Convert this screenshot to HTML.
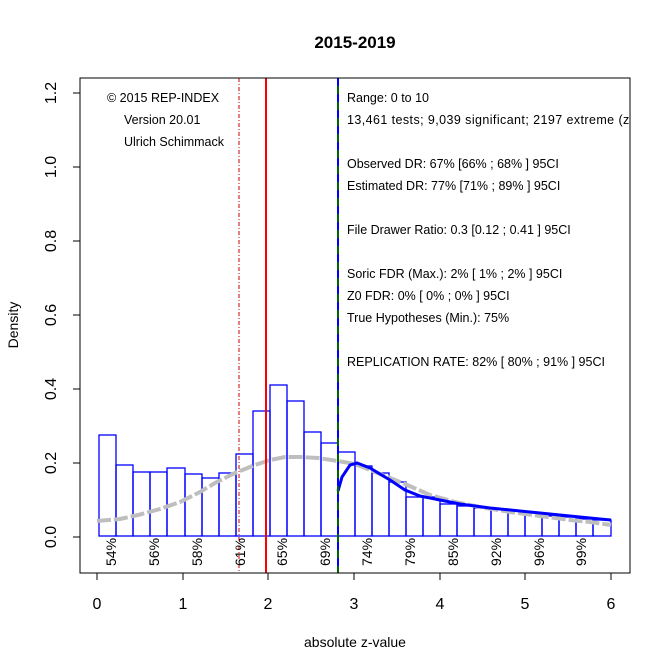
<!DOCTYPE html>
<html><head><style>body{margin:0;background:#fff}svg{display:block;font-family:"Liberation Sans",Arial,sans-serif}</style></head><body>
<svg width="672" height="671" xmlns="http://www.w3.org/2000/svg">
<defs><clipPath id="c"><rect x="80" y="78" width="550" height="495"/></clipPath></defs>
<rect width="672" height="671" fill="#fff"/>
<text x="355" y="48" font-size="17" font-weight="bold" text-anchor="middle">2015-2019</text>
<g fill="none" stroke="#00f" stroke-width="1.3">
<rect x="99" y="435" width="17" height="101"/><rect x="116" y="465" width="17" height="71"/><rect x="133" y="472" width="17" height="64"/><rect x="150" y="472" width="17" height="64"/><rect x="167" y="468" width="18" height="68"/><rect x="185" y="474" width="17" height="62"/><rect x="202" y="478" width="17" height="58"/><rect x="219" y="473" width="17" height="63"/><rect x="236" y="454" width="17" height="82"/><rect x="253" y="411" width="17" height="125"/><rect x="270" y="385" width="17" height="151"/><rect x="287" y="401" width="17" height="135"/><rect x="304" y="432" width="17" height="104"/><rect x="321" y="443" width="17" height="93"/><rect x="338" y="452" width="17" height="84"/><rect x="355" y="466" width="17" height="70"/><rect x="372" y="473" width="17" height="63"/><rect x="389" y="482" width="17" height="54"/><rect x="406" y="497" width="17" height="39"/><rect x="423" y="497" width="17" height="39"/><rect x="440" y="504" width="17" height="32"/><rect x="457" y="506" width="17" height="30"/><rect x="474" y="508" width="17" height="28"/><rect x="491" y="509" width="17" height="27"/><rect x="508" y="511" width="17" height="25"/><rect x="525" y="513" width="17" height="23"/><rect x="542" y="516" width="17" height="20"/><rect x="559" y="517" width="17" height="19"/><rect x="576" y="519" width="17" height="17"/><rect x="593" y="520" width="18" height="16"/>
</g>
<polyline fill="none" stroke="#bebebe" stroke-width="4" stroke-dasharray="14,3" points="97,521 120,519 138,515 160,509 180,502 200,492 215,483 235,473 255,465 270,460 285,457 300,457 318,458 338,461 355,464 380,474 405,484 430,495 455,502 480,507 510,512 540,516 570,520 590,522 611,525"/>
<polyline fill="none" stroke="#00f" stroke-width="3" points="338,491 342,477 350,465 357,463 370,468 390,480 405,490 420,496 440,500 460,504 490,508 520,511 550,514 580,517 600,519 611,520"/>
<line x1="239" y1="78" x2="239" y2="573" stroke="#c00" stroke-dasharray="4,2,1,2"/>
<line x1="266" y1="78" x2="266" y2="573" stroke="#f00" stroke-width="2"/>
<line x1="338" y1="78" x2="338" y2="573" stroke="#006400" stroke-width="2"/>
<line x1="338" y1="78" x2="338" y2="573" stroke="#00f" stroke-width="2" stroke-dasharray="8,8"/>
<rect x="80" y="78" width="550" height="495" fill="none" stroke="#000"/>
<g font-size="12.5" fill="#000" clip-path="url(#c)">
<text x="107" y="102">© 2015 REP-INDEX</text><text x="124" y="124">Version 20.01</text><text x="124" y="146">Ulrich Schimmack</text>
<text x="347" y="102">Range: 0 to 10</text><text x="347" y="124" textLength="290">13,461 tests; 9,039 significant; 2197 extreme (z&gt;</text>
<text x="347" y="168">Observed DR: 67% [66% ; 68% ] 95CI</text><text x="347" y="190">Estimated DR: 77% [71% ; 89% ] 95CI</text>
<text x="347" y="234">File Drawer Ratio: 0.3 [0.12 ; 0.41 ] 95CI</text>
<text x="347" y="278">Soric FDR (Max.): 2% [ 1% ; 2% ] 95CI</text><text x="347" y="300">Z0 FDR: 0% [ 0% ; 0% ] 95CI</text><text x="347" y="322">True Hypotheses (Min.): 75%</text>
<text x="347" y="366">REPLICATION RATE: 82% [ 80% ; 91% ] 95CI</text>
</g>
<g font-size="14" fill="#000">
<g transform="translate(116,566) rotate(-90)"><text>54%</text></g>
<g transform="translate(159,566) rotate(-90)"><text>56%</text></g>
<g transform="translate(202,566) rotate(-90)"><text>58%</text></g>
<g transform="translate(245,566) rotate(-90)"><text>61%</text></g>
<g transform="translate(287,566) rotate(-90)"><text>65%</text></g>
<g transform="translate(330,566) rotate(-90)"><text>69%</text></g>
<g transform="translate(372,566) rotate(-90)"><text>74%</text></g>
<g transform="translate(415,566) rotate(-90)"><text>79%</text></g>
<g transform="translate(458,566) rotate(-90)"><text>85%</text></g>
<g transform="translate(501,566) rotate(-90)"><text>92%</text></g>
<g transform="translate(544,566) rotate(-90)"><text>96%</text></g>
<g transform="translate(586,566) rotate(-90)"><text>99%</text></g>
</g>
<g stroke="#000"><line x1="97" y1="573" x2="97" y2="580"/><line x1="183" y1="573" x2="183" y2="580"/><line x1="268" y1="573" x2="268" y2="580"/><line x1="354" y1="573" x2="354" y2="580"/><line x1="440" y1="573" x2="440" y2="580"/><line x1="525" y1="573" x2="525" y2="580"/><line x1="611" y1="573" x2="611" y2="580"/>
<line x1="73" y1="537" x2="80" y2="537"/><line x1="73" y1="463" x2="80" y2="463"/><line x1="73" y1="389" x2="80" y2="389"/><line x1="73" y1="315" x2="80" y2="315"/><line x1="73" y1="241" x2="80" y2="241"/><line x1="73" y1="167" x2="80" y2="167"/><line x1="73" y1="93" x2="80" y2="93"/></g>
<g font-size="16" text-anchor="middle"><text x="97" y="609">0</text><text x="183" y="609">1</text><text x="268" y="609">2</text><text x="354" y="609">3</text><text x="440" y="609">4</text><text x="525" y="609">5</text><text x="611" y="609">6</text>
<text x="355" y="647" font-size="14">absolute z-value</text></g>
<g font-size="16" text-anchor="middle">
<text transform="translate(56,537) rotate(-90)">0.0</text><text transform="translate(56,463) rotate(-90)">0.2</text><text transform="translate(56,389) rotate(-90)">0.4</text><text transform="translate(56,315) rotate(-90)">0.6</text><text transform="translate(56,241) rotate(-90)">0.8</text><text transform="translate(56,167) rotate(-90)">1.0</text><text transform="translate(56,93) rotate(-90)">1.2</text>
<text transform="translate(18,325) rotate(-90)" font-size="14">Density</text></g>
</svg>
</body></html>
